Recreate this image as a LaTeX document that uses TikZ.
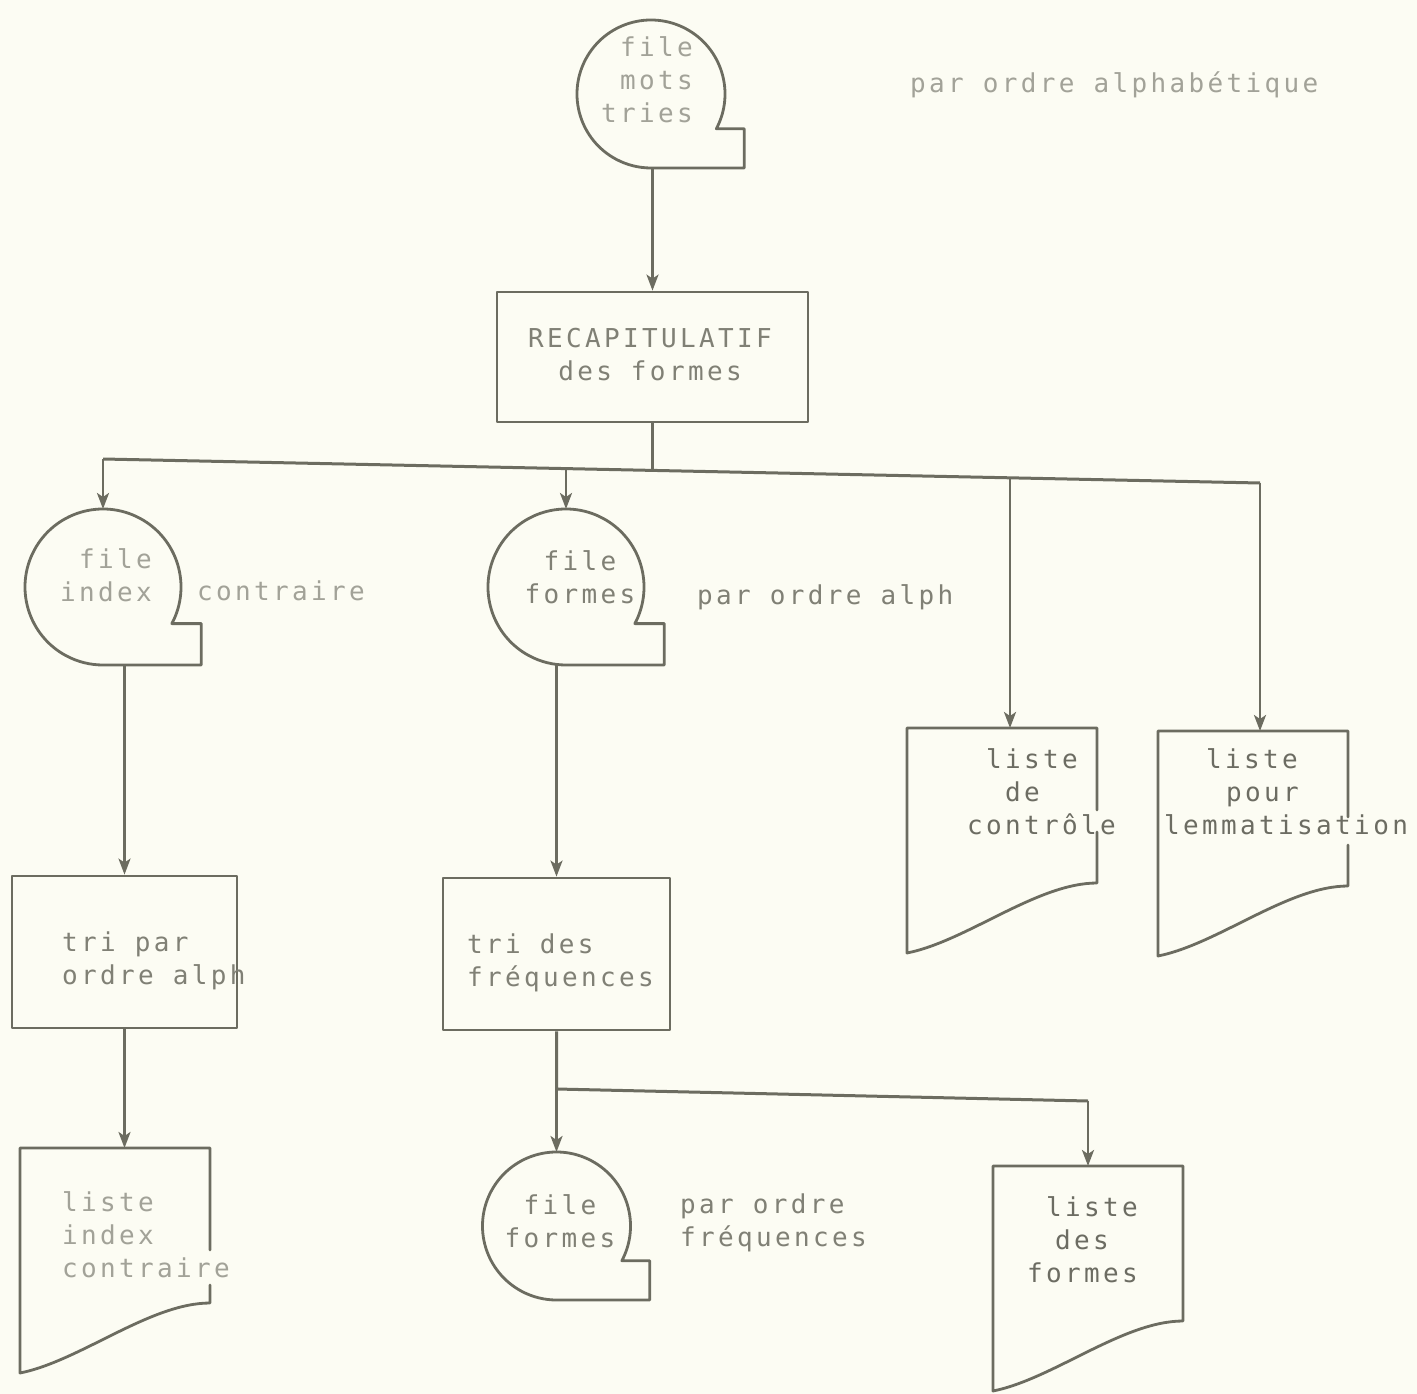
\documentclass[tikz,border=0pt]{standalone}
\usepackage{fontspec}
\newfontfamily\typew{DejaVu Sans Mono}[LetterSpace=12.9]
\usetikzlibrary{arrows.meta,calc}
\definecolor{paper}{RGB}{252,252,243}
\definecolor{ink}{RGB}{108,108,96}
\definecolor{txt}{RGB}{128,128,117}
\definecolor{txtfaint}{RGB}{162,162,152}
\definecolor{txtdark}{RGB}{108,108,98}

\tikzset{
  outline/.style={draw=ink,line width=2.8pt,line join=round,line cap=round},
  procbox/.style={outline,rectangle,inner sep=0pt},
  flow/.style={draw=ink,line width=2.5pt,-{Stealth[length=16pt,width=12pt,inset=4pt]}},
  bus/.style={draw=ink,line width=3pt,line join=round},
  typed/.style={font=\typew\fontsize{26}{33}\selectfont,text=txt,inner sep=0pt},
  % magnetic tape symbol: circle with a tail to the lower right
  pics/tape/.style={code={
    \draw[outline] (-28:#1) arc[start angle=-28,end angle=270,radius=#1]
      -- ({1.26*#1},{-#1}) -- ({1.26*#1},{-#1*sin(28)}) -- cycle;
    \coordinate (-n) at (0,#1);
    \coordinate (-s) at (0,-#1);
  }},
  % printed document symbol; the right edge is interrupted between #1 and #2
  pics/docu/.style 2 args={code={
    \draw[outline] (190,-#2) -- (190,-155)
      .. controls (130,-155) and (60,-213) .. (0,-225)
      -- (0,0) -- (190,0) -- (190,-#1);
    \coordinate (-nw) at (0,0);
  }},
}

\begin{document}
\begin{tikzpicture}[x=1pt,y=1pt]
\useasboundingbox (0,0) rectangle (1417,-1394);
\fill[paper] (0,0) rectangle (1417,-1394);

% input file
\pic (t0) at (651,-94) {tape=74};
\node[typed,text=txtfaint,align=right,anchor=east] (t0txt) at (693,-80) {file\\mots\\tries};
\node[typed,text=txtfaint,anchor=west] (t0note) at (910,-85) {par ordre alphabétique};

% recapitulation
\node[procbox,minimum width=311pt,minimum height=130pt] (recap) at (652.5,-357) {};
\node[typed,align=center] (recaptxt) at (650,-355) {RECAPITULATIF\\des formes};
\draw[flow] (recap.north |- t0-s) -- (recap.north);

% first distribution line
\coordinate (j1) at (103,-459);
\coordinate (j2) at (566,-469);
\coordinate (j0) at (652.5,-471);
\coordinate (j3) at (1010,-478);
\coordinate (j4) at (1260,-483);
\draw[bus] (j1) -- (j4);
\draw[bus] (recap.south) -- (j0);

% output files
\pic (t1) at (103,-587) {tape=78};
\pic (t2) at (566,-587) {tape=78};
\draw[flow] (j1) -- (t1-n);
\draw[flow] (j2) -- (t2-n);
\node[typed,text=txtfaint,align=right,anchor=east] (t1txt) at (152,-575) {file\\index};
\node[typed,text=txtfaint,anchor=west] (t1note) at (197,-591) {contraire};
\node[typed,align=center] (t2txt) at (580,-577) {file\\formes};
\node[typed,anchor=west] (t2note) at (697,-597) {par ordre alph};

% listings
\pic (d1) at (907,-728) {docu={82}{104}};
\pic (d2) at (1158,-731) {docu={86}{114}};
\draw[flow] (j3) -- (j3 |- d1-nw);
\draw[flow] (j4) -- (j4 |- d2-nw);
\node[typed,text=txtdark,align=left,anchor=west] (d1txt) at (967,-792)
  {\hspace*{19pt}liste\\\hspace*{38pt}de\\contrôle};
\node[typed,text=txtdark,align=left,anchor=west] (d2txt) at (1164,-792)
  {\hspace*{42pt}liste\\\hspace*{62pt}pour\\lemmatisation};

% sorts
\node[procbox,minimum width=225pt,minimum height=152pt] (sort1) at (124.5,-952) {};
\node[typed,align=left,anchor=west] (sort1txt) at (62,-961) {tri par\\ordre alph};
\node[procbox,minimum width=227pt,minimum height=152pt] (sort2) at (556.5,-954) {};
\node[typed,align=left,anchor=west] (sort2txt) at (467,-963) {tri des\\fréquences};
\draw[flow] (sort1.north |- t1-s) -- (sort1.north);
\draw[flow] (sort2.north |- t2-s) -- (sort2.north);

% reverse index listing
\pic (d3) at (20,-1148) {docu={102}{137}};
\draw[flow] (sort1.south) -- (sort1.south |- d3-nw);
\node[typed,text=txtfaint,align=left,anchor=west] (d3txt) at (62,-1235) {liste\\index\\contraire};

% frequency outputs
\coordinate (k1) at (556.5,-1089);
\coordinate (k2) at (1088,-1101);
\pic (t3) at (556.5,-1226) {tape=74};
\pic (d4) at (993,-1166) {docu={80}{80}};
\draw[bus] (sort2.south) -- (k1) -- (k2);
\draw[flow] (k1) -- (t3-n);
\draw[flow] (k2) -- (k2 |- d4-nw);
\node[typed,align=center] (t3txt) at (560,-1221) {file\\formes};
\node[typed,align=left,anchor=west] (t3note) at (680,-1223) {par ordre\\fréquences};
\node[typed,text=txtdark,align=left,anchor=west] (d4txt) at (1027,-1240)
  {\hspace*{19pt}liste\\\hspace*{28pt}des\\formes};
\end{tikzpicture}
\end{document}
